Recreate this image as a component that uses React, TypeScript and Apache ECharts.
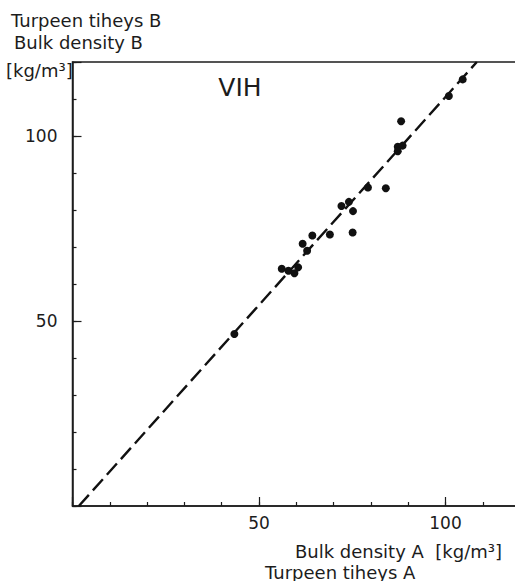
import React, { useEffect, useRef } from "react";
import * as echarts from "echarts";

const densityA = [43.4, 56.1, 57.9, 59.5, 60.5, 62.9, 61.7, 64.3, 69.0, 75.1, 72.1, 74.1, 75.2, 79.2, 84.0, 87.2, 88.5, 87.2, 88.1, 100.9, 104.6];
const densityB = [46.5, 64.1, 63.6, 62.9, 64.5, 69.0, 70.9, 73.1, 73.4, 73.9, 81.1, 82.2, 79.7, 86.1, 85.9, 97.1, 97.4, 95.9, 104.0, 110.8, 115.3];
const fitLineX = [1.7, 108.4];
const fitLineY = [0, 120];
const majorTickLabels = [50, 100];

const FONT = "DejaVu Sans";
const INK = "#1c1c1c";

export default function App() {
  const ref = useRef<HTMLDivElement>(null);
  useEffect(() => {
    document.body.style.margin = "0";
    document.body.style.overflow = "hidden";
    const chart = echarts.init(ref.current!, null, { renderer: "svg" });
    const pts = densityA.map((x, i) => [x, densityB[i]]);
    const line = fitLineX.map((x, i) => [x, fitLineY[i]]);
    const labelFmt = (v: number) => (majorTickLabels.includes(v) ? String(v) : "");
    const minorAxis = (pos: string) => ({
      type: "value",
      position: pos,
      min: 0,
      max: 120,
      interval: 10,
      axisLine: { show: true, onZero: false, lineStyle: { color: INK, width: 1.5 } },
      axisTick: { show: true, inside: true, length: 4, lineStyle: { color: INK, width: 1.2 } },
      axisLabel: { show: false },
      splitLine: { show: false },
    });
    const majorAxis = (pos: string, margin: number) => ({
      type: "value",
      position: pos,
      min: 0,
      max: 120,
      interval: 50,
      axisLine: { show: false },
      axisTick: { show: true, inside: true, length: 9, lineStyle: { color: INK, width: 1.2 } },
      axisLabel: { show: true, formatter: labelFmt, color: INK, fontFamily: FONT, fontSize: 17, margin },
      splitLine: { show: false },
    });
    chart.setOption({
      animation: false,
      backgroundColor: "#ffffff",
      grid: {
        left: 72.5,
        top: 62,
        width: 447.6,
        height: 444,
        show: true,
        borderColor: INK,
        borderWidth: 1.5,
        containLabel: false,
      },
      xAxis: [minorAxis("bottom"), majorAxis("bottom", 8)],
      yAxis: [minorAxis("left"), majorAxis("left", 15)],
      series: [
        {
          type: "line",
          data: line,
          xAxisIndex: 0,
          yAxisIndex: 0,
          symbol: "none",
          lineStyle: { color: "#111", width: 2.4, type: [15, 6] },
          z: 2,
        },
        {
          type: "scatter",
          data: pts,
          xAxisIndex: 0,
          yAxisIndex: 0,
          symbolSize: 8,
          itemStyle: { color: "#111", opacity: 1 },
          z: 3,
        },
      ],
      graphic: [
        { type: "text", x: 11, y: 20, style: { text: "Turpeen tiheys B", font: `18px "${FONT}"`, fill: INK, textAlign: "left", textVerticalAlign: "middle" } },
        { type: "text", x: 14, y: 42, style: { text: "Bulk density B", font: `18px "${FONT}"`, fill: INK, textAlign: "left", textVerticalAlign: "middle" } },
        { type: "text", x: 6, y: 70, style: { text: "[kg/m³]", font: `18px "${FONT}"`, fill: INK, textAlign: "left", textVerticalAlign: "middle" } },
        { type: "text", x: 240, y: 87, style: { text: "VIH", font: `25px "${FONT}"`, fill: INK, textAlign: "center", textVerticalAlign: "middle" } },
        { type: "text", x: 502, y: 551, style: { text: "Bulk density A  [kg/m³]", font: `18px "${FONT}"`, fill: INK, textAlign: "right", textVerticalAlign: "middle" } },
        { type: "text", x: 265, y: 572, style: { text: "Turpeen tiheys A", font: `18px "${FONT}"`, fill: INK, textAlign: "left", textVerticalAlign: "middle" } },
      ],
    });
    return () => chart.dispose();
  }, []);
  return (
    <div style={{ width: 515, height: 581, overflow: "hidden", position: "relative" }}>
      <div ref={ref} style={{ width: 530, height: 581 }} />
    </div>
  );
}
